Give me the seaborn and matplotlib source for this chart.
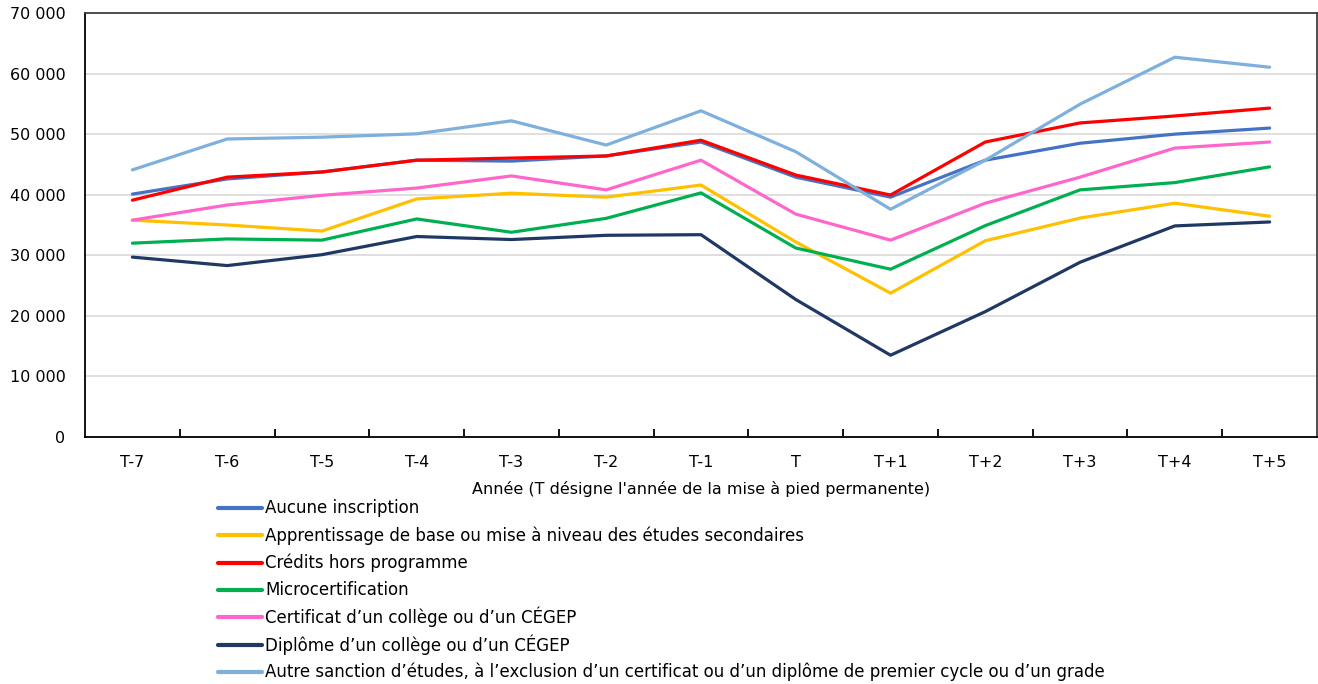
import matplotlib
matplotlib.use("Agg")
import matplotlib.pyplot as plt
from matplotlib.lines import Line2D
from matplotlib.ticker import FuncFormatter, FixedLocator
import seaborn as sns
import pandas as pd

years = ["T-7", "T-6", "T-5", "T-4", "T-3", "T-2", "T-1", "T",
         "T+1", "T+2", "T+3", "T+4", "T+5"]

series_names = [
    "Aucune inscription",
    "Apprentissage de base ou mise à niveau des études secondaires",
    "Crédits hors programme",
    "Microcertification",
    "Certificat d\u2019un collège ou d\u2019un CÉGEP",
    "Diplôme d\u2019un collège ou d\u2019un CÉGEP",
    "Autre sanction d\u2019études, à l\u2019exclusion d\u2019un certificat ou d\u2019un diplôme de premier cycle ou d\u2019un grade",
]

aucune = [40100, 42600, 43750, 45700, 45550, 46400, 48700, 42900, 39600, 45700, 48500, 50000, 51000]
apprentissage = [35800, 35000, 34000, 39300, 40250, 39600, 41600, 32200, 23750, 32400, 36150, 38600, 36450]
credits = [39100, 42900, 43750, 45700, 46050, 46400, 49000, 43250, 39950, 48700, 51850, 53000, 54300]
microcert = [32000, 32700, 32500, 36000, 33800, 36100, 40300, 31200, 27700, 34900, 40800, 42000, 44600]
certificat = [35800, 38300, 39900, 41100, 43100, 40800, 45700, 36800, 32500, 38600, 42900, 47700, 48700]
diplome = [29700, 28300, 30100, 33100, 32600, 33300, 33400, 22700, 13500, 20700, 28850, 34850, 35500]
autre = [44100, 49200, 49500, 50050, 52200, 48200, 53850, 47100, 37600, 45700, 54950, 62700, 61050]

colors = ["#4472C4", "#FFC000", "#FF0000", "#00B050", "#FF66CC", "#203864", "#7EB0DE"]

values = [aucune, apprentissage, credits, microcert, certificat, diplome, autre]
rows = []
for name, vals in zip(series_names, values):
    for i, (yr, v) in enumerate(zip(years, vals)):
        rows.append({"pos": i, "Année": yr, "Valeur": v, "Série": name})
df = pd.DataFrame(rows)

sns.set_theme(style="white")
plt.rcParams["font.family"] = ["DejaVu Sans"]
plt.rcParams["font.sans-serif"] = ["DejaVu Sans"]

W, H = 1318, 684
fig = plt.figure(figsize=(W / 100, H / 100), dpi=100)
ax = fig.add_axes([85 / W, 1 - 437 / H, 1232 / W, 424 / H])

sns.lineplot(data=df, x="pos", y="Valeur", hue="Série", hue_order=series_names,
             palette=colors, linewidth=2.3, sort=False, ax=ax, legend=False)

ax.set_xlim(-0.5, len(years) - 0.5)
ax.set_ylim(0, 70000)
ax.set_yticks(range(0, 70001, 10000))
ax.yaxis.set_major_formatter(FuncFormatter(lambda v, p: f"{int(v):,}".replace(",", " ")))
ax.set_xticks(range(len(years)))
ax.set_xticklabels(years)
ax.xaxis.set_minor_locator(FixedLocator([i + 0.5 for i in range(len(years) - 1)]))

ax.grid(axis="y", color="#D9D9D9", linewidth=1.2)
ax.set_axisbelow(True)
for side in ["left", "bottom", "top", "right"]:
    ax.spines[side].set_visible(True)
    ax.spines[side].set_color("black")
    ax.spines[side].set_linewidth(1.3)
ax.spines["top"].set_color("#404040")
ax.spines["right"].set_color("#404040")

ax.tick_params(axis="y", which="both", left=False, length=0, labelsize=11.5, pad=14, colors="black")
ax.tick_params(axis="x", which="major", bottom=True, length=0, labelsize=11.5, pad=13, colors="black")
ax.tick_params(axis="x", which="minor", bottom=True, length=6, width=1.3, direction="in", color="black")

ax.set_xlabel("Année (T désigne l'année de la mise à pied permanente)", fontsize=11.5, labelpad=8,
              color="black")
ax.set_ylabel("")

# Legend: one evenly spaced row per series below the x-axis title
row_top, row_step = 508, 27.3
for k, (name, c) in enumerate(zip(series_names, colors)):
    yf = 1 - (row_top + k * row_step) / H
    fig.add_artist(Line2D([218 / W, 262 / W], [yf, yf], color=c, linewidth=3,
                          transform=fig.transFigure))
    fig.text(265 / W, yf + 2 / H, name, fontsize=12.0, color="black",
             ha="left", va="center_baseline")

fig.savefig("out.png", dpi=100)
